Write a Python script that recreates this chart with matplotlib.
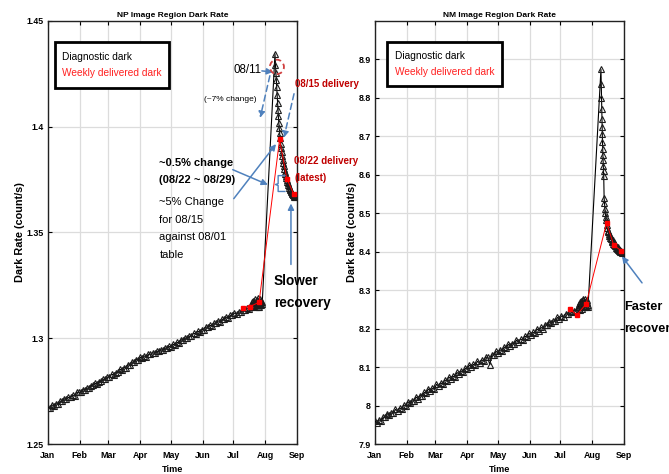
import matplotlib
matplotlib.use("Agg")
import matplotlib.pyplot as plt
from matplotlib import font_manager
from matplotlib.patches import Ellipse, Rectangle

# ---------------------------------------------------------------- fonts
available = {f.name for f in font_manager.fontManager.ttflist}
FAMILY = [f for f in ["Liberation Sans Narrow", "Liberation Sans", "DejaVu Sans"] if f in available]
plt.rcParams["font.family"] = FAMILY

# ---------------------------------------------------------------- data
month_days = [0, 31, 59, 90, 120, 151, 181, 212, 243]
month_labels = ["Jan", "Feb", "Mar", "Apr", "May", "Jun", "Jul", "Aug", "Sep"]

# NP image region, diagnostic dark (day of year, count/s)
np_diag_days = [0, 2, 4, 6, 8, 10, 12, 14, 16, 18, 20, 22, 24, 26, 28, 30,
                32, 34, 36, 38, 40, 42, 44, 46, 48, 50, 52, 54, 56, 58,
                60, 62, 64, 66, 68, 70, 72, 74, 76, 78, 80, 82, 84, 86, 88,
                90, 92, 94, 96, 98, 100, 102, 104, 106, 108, 110, 112, 114, 116, 118,
                120, 122, 124, 126, 128, 130, 132, 134, 136, 138, 140, 142, 144, 146, 148, 150,
                152, 154, 156, 158, 160, 162, 164, 166, 168, 170, 172, 174, 176, 178, 180,
                182, 184, 186, 188, 190, 192, 194, 196, 198,
                199, 199.5, 200, 200.5, 201, 201.5, 202, 202.5, 203, 203.5, 204, 204.5,
                205, 205.5, 206, 206.5, 207, 207.5, 208, 208.5, 209,
                221.5, 222.0, 222.4, 222.8, 223.2, 223.6, 224.0, 224.4, 224.8, 225.2, 225.6, 226.0, 226.5,
                227.0, 227.5, 228.0, 228.5, 229.0, 229.5, 230.0, 230.5, 231.0, 231.5, 232.0, 232.5, 233.0,
                233.5, 234.0, 234.5, 235.0, 235.5, 236.0, 236.5, 237.0, 237.5, 238.0, 238.5, 239.0, 239.5,
                240.0, 240.5, 241.0]
np_diag_rate = [1.2672, 1.2672, 1.2684, 1.2682, 1.2690, 1.2690, 1.2702, 1.2703, 1.2714, 1.2711,
                1.2720, 1.2721, 1.2731, 1.2729, 1.2744, 1.2744,
                1.2745, 1.2757, 1.2756, 1.2764, 1.2764, 1.2776, 1.2777, 1.2787, 1.2785, 1.2795,
                1.2796, 1.2806, 1.2805, 1.2816,
                1.2817, 1.2829, 1.2828, 1.2838, 1.2840, 1.2853, 1.2851, 1.2861, 1.2861, 1.2874,
                1.2875, 1.2887, 1.2888, 1.2899, 1.2898,
                1.2910, 1.2907, 1.2916, 1.2913, 1.2924, 1.2924, 1.2932, 1.2929, 1.2938, 1.2938,
                1.2946, 1.2943, 1.2953, 1.2954, 1.2961,
                1.2959, 1.2971, 1.2970, 1.2980, 1.2979, 1.2993, 1.2991, 1.3001, 1.3000, 1.3009,
                1.3010, 1.3023, 1.3022, 1.3032, 1.3031, 1.3041,
                1.3041, 1.3053, 1.3052, 1.3061, 1.3059, 1.3071, 1.3072, 1.3082, 1.3079, 1.3089,
                1.3090, 1.3100, 1.3097, 1.3108, 1.3110,
                1.3119, 1.3116, 1.3125, 1.3123, 1.3134, 1.3133, 1.3143, 1.3140, 1.3149,
                1.3170, 1.3158, 1.3155, 1.3178, 1.3152, 1.3168, 1.3185, 1.3158, 1.3150, 1.3182,
                1.3160, 1.3150, 1.3190, 1.3170, 1.3148, 1.3185, 1.3165, 1.3155, 1.3178, 1.3172,
                1.3160,
                1.4345, 1.4290, 1.4255, 1.4220, 1.4190, 1.4150, 1.4110, 1.4080, 1.4050, 1.4020,
                1.3995, 1.3970, 1.3945, 1.3920, 1.3900, 1.3880, 1.3862, 1.3845, 1.3830, 1.3815,
                1.3800, 1.3788, 1.3776, 1.3766, 1.3757, 1.3748, 1.3740, 1.3732, 1.3725, 1.3718,
                1.3712, 1.3706, 1.3700, 1.3695, 1.3690, 1.3686, 1.3682, 1.3678, 1.3675, 1.3672,
                1.3670, 1.3668]

# NP image region, weekly delivered dark
np_week_days = [190, 197, 206, 226, 233, 240]
np_week_rate = [1.3145, 1.3150, 1.3170, 1.3940, 1.3755, 1.3680]

# NM image region, diagnostic dark
nm_diag_days = [0, 2, 4, 6, 8, 10, 12, 14, 16, 18, 20, 22, 24, 26, 28, 30,
                32, 34, 36, 38, 40, 42, 44, 46, 48, 50, 52, 54, 56, 58,
                60, 62, 64, 66, 68, 70, 72, 74, 76, 78, 80, 82, 84, 86, 88,
                90, 92, 94, 96, 98, 100, 102, 104, 106, 108, 110, 112, 114, 116, 118,
                120, 122, 124, 126, 128, 130, 132, 134, 136, 138, 140, 142, 144, 146, 148, 150,
                152, 154, 156, 158, 160, 162, 164, 166, 168, 170, 172, 174, 176, 178, 180,
                182, 184, 186, 188, 190, 192, 194, 196, 198,
                199, 199.5, 200, 200.5, 201, 201.5, 202, 202.5, 203, 203.5, 204, 204.5,
                205, 205.5, 206, 206.5, 207, 207.5, 208,
                220.5, 220.8, 221.0, 221.2, 221.4, 221.6, 221.8, 222.0, 222.2, 222.4, 222.6, 222.8, 223.0,
                223.2, 223.6, 223.9, 224.3, 224.7, 225.2, 225.6, 226.0, 226.5, 227.0, 227.5, 228.0, 228.5,
                229.0, 229.5, 230.0, 230.5, 231.0, 231.5, 232.0, 232.5, 233.0, 233.5, 234.0, 234.5, 235.0,
                235.5, 236.0, 236.5, 237.0, 237.5, 238.0, 238.5, 239.0, 239.5, 240.0, 240.5, 241.0]
nm_diag_rate = [7.959, 7.955, 7.963, 7.960, 7.970, 7.969, 7.979, 7.975, 7.981, 7.980,
                7.990, 7.986, 7.994, 7.991, 8.001, 8.000,
                8.010, 8.006, 8.012, 8.012, 8.022, 8.018, 8.026, 8.024, 8.034, 8.033,
                8.043, 8.039, 8.045, 8.044,
                8.055, 8.051, 8.059, 8.056, 8.066, 8.065, 8.074, 8.070, 8.076, 8.075,
                8.086, 8.082, 8.090, 8.087, 8.097,
                8.096, 8.105, 8.101, 8.107, 8.105, 8.115, 8.111, 8.119, 8.116, 8.126,
                8.125, 8.106, 8.132, 8.131, 8.141,
                8.137, 8.145, 8.142, 8.152, 8.150, 8.159, 8.155, 8.161, 8.160, 8.170,
                8.165, 8.173, 8.170, 8.180, 8.179, 8.188,
                8.184, 8.190, 8.189, 8.199, 8.195, 8.203, 8.200, 8.210, 8.209, 8.218,
                8.214, 8.220, 8.219, 8.229, 8.225,
                8.233, 8.230, 8.239, 8.238, 8.246, 8.242, 8.247, 8.246, 8.255,
                8.265, 8.250, 8.248, 8.270, 8.272, 8.256, 8.252, 8.276, 8.275, 8.258,
                8.255, 8.278, 8.270, 8.256, 8.258, 8.274, 8.268, 8.257, 8.262,
                8.874, 8.835, 8.800, 8.770, 8.745, 8.725, 8.705, 8.685, 8.668, 8.652,
                8.638, 8.622, 8.610, 8.598, 8.540, 8.528, 8.512, 8.500, 8.490, 8.482,
                8.470, 8.462, 8.455, 8.452, 8.446, 8.441, 8.443, 8.436, 8.432, 8.435,
                8.428, 8.425, 8.430, 8.421, 8.418, 8.424, 8.414, 8.419, 8.410, 8.416,
                8.408, 8.413, 8.405, 8.411, 8.403, 8.408, 8.400, 8.405, 8.398, 8.402, 8.396]

# NM image region, weekly delivered dark
nm_week_days = [190, 197, 206, 226, 233, 240]
nm_week_rate = [8.251, 8.236, 8.264, 8.475, 8.417, 8.403]

np_yticks = [1.25, 1.30, 1.35, 1.40, 1.45]
np_yticklabels = ["1.25", "1.3", "1.35", "1.4", "1.45"]
nm_yticks = [7.9, 8.0, 8.1, 8.2, 8.3, 8.4, 8.5, 8.6, 8.7, 8.8, 8.9]
nm_yticklabels = ["7.9", "8", "8.1", "8.2", "8.3", "8.4", "8.5", "8.6", "8.7", "8.8", "8.9"]

# ---------------------------------------------------------------- styling
BLUE = "#4f81bd"
DARK_RED = "#c00000"
W, H = 669, 474

fig = plt.figure(figsize=(W / 100, H / 100), dpi=100)
ax1 = fig.add_axes([48 / W, 1 - 444 / H, 249 / W, 423 / H])
ax2 = fig.add_axes([375 / W, 1 - 444 / H, 249 / W, 423 / H])


def style_axes(ax, title, yticks, yticklabels, ylim):
    ax.set_xlim(0, 243)
    ax.set_ylim(*ylim)
    ax.set_xticks(month_days)
    ax.set_xticklabels(month_labels, fontweight="bold", fontsize=6.4)
    ax.set_yticks(yticks)
    ax.set_yticklabels(yticklabels, fontweight="bold", fontsize=6.4)
    ax.grid(True, color="#dcdcdc", linewidth=0.9)
    ax.set_axisbelow(True)
    ax.tick_params(direction="in", length=3, width=0.8, top=True, right=True)
    ax.tick_params(axis="x", pad=5)
    ax.tick_params(axis="y", pad=3)
    for s in ax.spines.values():
        s.set_linewidth(1.0)
        s.set_color("#222222")
    ax.set_title(title, fontweight="bold", fontsize=6.0, pad=3)
    ax.set_xlabel("Time", fontweight="bold", fontsize=6.6, labelpad=4)
    ax.set_ylabel("Dark Rate (count/s)", fontweight="bold", fontsize=7.8, labelpad=1)


def draw_series(ax, dd, dr, wd, wr):
    ax.plot(dd, dr, color="black", linewidth=0.8, marker="^", markersize=4.6,
            markerfacecolor="none", markeredgecolor="#1c1c1c", markeredgewidth=0.8, zorder=3)
    ax.plot(wd, wr, color="red", linewidth=0.7, marker="s", markersize=2.6,
            markerfacecolor="red", markeredgecolor="red", zorder=4)


def legend_box(ax, x0, y0, x1, y1, tx, ty1, ty2):
    ax.add_patch(Rectangle((x0, y0), x1 - x0, y1 - y0, transform=ax.transAxes,
                           facecolor="white", edgecolor="black", linewidth=2.0, zorder=6))
    ax.text(tx, ty1, "Diagnostic dark", transform=ax.transAxes, color="black",
            fontsize=7.3, va="center", ha="left", zorder=7)
    ax.text(tx, ty2, "Weekly delivered dark", transform=ax.transAxes, color="#ff2020",
            fontsize=7.3, va="center", ha="left", zorder=7)


def text_lines(ax, x, ys, strings, **kw):
    for y, s in zip(ys, strings):
        ax.text(x, y, s, ha="left", va="center", clip_on=False, zorder=8, **kw)


style_axes(ax1, "NP Image Region Dark Rate", np_yticks, np_yticklabels, (1.25, 1.45))
style_axes(ax2, "NM Image Region Dark Rate", nm_yticks, nm_yticklabels, (7.9, 9.0))
draw_series(ax1, np_diag_days, np_diag_rate, np_week_days, np_week_rate)
draw_series(ax2, nm_diag_days, nm_diag_rate, nm_week_days, nm_week_rate)
legend_box(ax1, 0.028, 0.842, 0.486, 0.950, 0.058, 0.915, 0.877)
legend_box(ax2, 0.048, 0.846, 0.510, 0.950, 0.080, 0.917, 0.879)

# ---------------------------------------------------------------- NP annotations
arrow = dict(arrowstyle="-|>", color=BLUE, linewidth=1.1, mutation_scale=9, shrinkA=0, shrinkB=0)
dashed = dict(arrowstyle="-|>", color=BLUE, linewidth=1.1, mutation_scale=9,
              shrinkA=0, shrinkB=0, linestyle=(0, (4, 2.5)))

ax1.text(208.0, 1.4269, "08/11", fontsize=8.3, ha="right", va="center", zorder=8)
ax1.annotate("", xy=(219.5, 1.4259), xytext=(208.7, 1.4264), arrowprops=arrow,
             annotation_clip=False, zorder=8)
ax1.add_patch(Ellipse((223.4, 1.4283), 13.7, 0.0068, facecolor="none", edgecolor="#d04040",
                      linewidth=1.3, linestyle=(0, (3, 2)), zorder=8, clip_on=False))
ax1.text(178.3, 1.4127, "(~7% change)", fontsize=6.0, ha="center", va="center", zorder=8)
ax1.annotate("", xy=(207.0, 1.4042), xytext=(216.5, 1.4241), arrowprops=dashed,
             annotation_clip=False, zorder=8)
ax1.annotate("", xy=(230.2, 1.3948), xytext=(240.1, 1.4156), arrowprops=dashed,
             annotation_clip=False, zorder=8)

text_lines(ax1, 241.0, [1.4203], ["08/15 delivery"], fontsize=7.0, fontweight="bold",
           color=DARK_RED)
text_lines(ax1, 240.1, [1.3840, 1.3759], ["08/22 delivery", "(latest)"], fontsize=7.0,
           fontweight="bold", color=DARK_RED)

text_lines(ax1, 108.8, [1.3830, 1.3750], ["~0.5% change", "(08/22 ~ 08/29)"],
           fontsize=8.0, fontweight="bold")
text_lines(ax1, 108.8, [1.3646, 1.3561, 1.3481, 1.3392],
           ["~5% Change", "for 08/15", "against 08/01", "table"], fontsize=8.0)

ax1.annotate("", xy=(222.5, 1.3918), xytext=(181.3, 1.3660), arrowprops=arrow,
             annotation_clip=False, zorder=8)
ax1.annotate("", xy=(214.6, 1.3726), xytext=(180.3, 1.3797), arrowprops=arrow,
             annotation_clip=False, zorder=8)
# bracket spanning the 08/22 - 08/29 drop
bx = [231.2, 224.6, 224.6, 222.0, 224.6, 224.6, 231.2]
by = [1.3769, 1.3769, 1.3731, 1.3727, 1.3722, 1.3694, 1.3694]
ax1.plot(bx, by, color=BLUE, linewidth=1.0, zorder=8, clip_on=False)

ax1.annotate("", xy=(237.1, 1.3637), xytext=(237.1, 1.3349), arrowprops=arrow,
             annotation_clip=False, zorder=8)
text_lines(ax1, 220.5, [1.3269, 1.3165], ["Slower", "recovery"], fontsize=9.8,
           fontweight="bold")

# ---------------------------------------------------------------- NM annotations
ax2.annotate("", xy=(241.0, 8.388), xytext=(260.6, 8.319), arrowprops=arrow,
             annotation_clip=False, zorder=8)
text_lines(ax2, 243.0, [8.2568, 8.1995], ["Faster", "recover"], fontsize=9.2,
           fontweight="bold")

fig.savefig("out.png", dpi=100)
